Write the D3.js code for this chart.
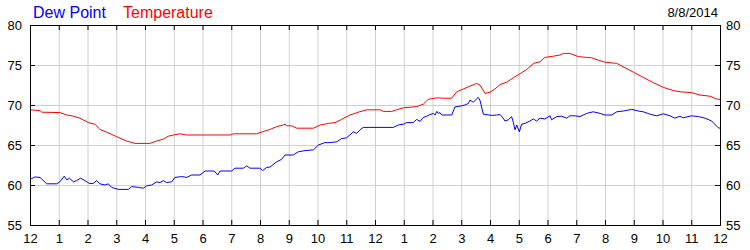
<!DOCTYPE html>
<html>
<head>
<meta charset="utf-8">
<script src="https://cdn.jsdelivr.net/npm/d3@7"></script>
<style>
    body { margin: 0; background: #fff; }
    text { font-family: "Liberation Sans", Arial, sans-serif; }
    .grid line { stroke: #d0d0d0; stroke-width: 1; }
    .grid path { display: none; }
    .axis path { display: none; }
    .axis line { stroke: #000; }
    .axis text { font-size: 13px; fill: #000; }
</style>
</head>
<body>
<div id="chart-area"></div>
<script>

// Readings for 8/8/2014 (hours since midnight)
var dewHours = [0, 0.17, 0.35, 0.58, 0.93, 1.04, 1.19, 1.28, 1.37, 1.51, 1.62, 1.76, 1.91, 2.06, 2.2, 2.32, 2.43, 2.61, 2.72, 2.84,
    3.07, 3.42, 3.54, 3.77, 3.94, 4.06, 4.23, 4.41, 4.52, 4.64, 4.75, 4.93, 5.04, 5.28, 5.45, 5.62, 5.91, 6.09, 6.41, 6.53,
    6.61, 7.01, 7.13, 7.42, 7.54, 7.65, 8.0, 8.09, 8.23, 8.35, 8.58, 8.75, 8.87, 9.16, 9.22, 9.33, 9.57, 9.86, 10.03, 10.26,
    10.44, 10.67, 10.84, 11.01, 11.25, 11.36, 11.48, 11.59, 12.64, 12.81, 12.99, 13.1, 13.33, 13.45, 13.57, 13.68, 13.8, 13.91, 14.03, 14.09,
    14.15, 14.2, 14.26, 14.32, 14.67, 14.78, 15.01, 15.13, 15.25, 15.3, 15.42, 15.59, 15.65, 15.77, 16.06, 16.23, 16.35, 16.46, 16.52, 16.64,
    16.75, 16.81, 16.87, 16.93, 17.02, 17.1, 17.22, 17.39, 17.51, 17.62, 17.74, 17.91, 18.09, 18.14, 18.32, 18.49, 18.67, 18.78, 18.96, 19.13,
    19.36, 19.59, 19.83, 20.0, 20.23, 20.41, 20.64, 20.93, 21.16, 21.33, 21.57, 21.8, 22.03, 22.26, 22.43, 22.61, 22.72, 23.01, 23.25, 23.48,
    23.71, 23.94, 24.0];
var dewValues = [60.7, 61.0, 60.95, 60.15, 60.15, 60.4, 61.1, 60.65, 60.85, 60.4, 60.55, 60.85, 60.55, 60.2, 60.2, 60.55, 60.15, 60.0, 60.15, 59.7,
    59.45, 59.45, 59.8, 59.7, 59.6, 59.9, 60.0, 60.4, 60.3, 60.55, 60.3, 60.4, 60.95, 61.05, 60.95, 61.25, 61.25, 61.75, 61.75, 61.25,
    61.75, 61.75, 62.1, 62.1, 62.4, 62.1, 62.1, 61.8, 62.2, 62.25, 62.9, 63.2, 63.75, 63.75, 63.9, 64.15, 64.3, 64.4, 65.0, 65.3,
    65.3, 65.4, 65.8, 65.9, 66.65, 66.45, 66.9, 67.2, 67.2, 67.5, 67.6, 67.8, 67.8, 68.2, 67.95, 68.45, 68.6, 68.8, 68.95, 68.75,
    69.2, 68.95, 69.05, 68.75, 68.75, 69.75, 69.9, 70.0, 70.2, 70.6, 70.35, 70.95, 70.6, 68.85, 68.7, 68.75, 68.8, 68.35, 68.0, 68.15,
    68.55, 67.85, 66.9, 67.5, 66.65, 67.6, 67.7, 68.0, 68.25, 68.0, 68.35, 68.25, 68.65, 68.15, 68.55, 68.6, 68.35, 68.65, 68.65, 68.55,
    68.95, 69.15, 68.95, 68.75, 68.75, 69.15, 69.25, 69.45, 69.25, 69.15, 68.85, 68.65, 68.9, 68.65, 68.35, 68.6, 68.4, 68.65, 68.55, 68.35,
    68.0, 67.15, 67.1];

var tempHours = [0, 0.35, 0.41, 1.04, 1.28, 1.51, 1.74, 2.03, 2.26, 2.43, 2.67, 3.01, 3.36, 3.65, 4.17, 4.41, 4.64, 4.81, 4.99, 5.22,
    5.45, 6.96, 7.07, 7.88, 8.0, 8.35, 8.58, 8.81, 8.87, 8.93, 9.1, 9.28, 9.86, 10.09, 10.38, 10.61, 10.84, 11.13, 11.42, 11.71,
    12.17, 12.29, 12.58, 12.75, 12.99, 13.45, 13.68, 13.85, 14.15, 14.38, 14.67, 14.84, 15.07, 15.3, 15.54, 15.65, 15.83, 16.0, 16.17, 16.35,
    16.58, 16.81, 17.04, 17.28, 17.51, 17.74, 17.91, 18.2, 18.43, 18.55, 18.78, 19.07, 19.36, 19.54, 19.77, 20.0, 20.41, 20.7, 20.99, 21.33,
    21.68, 22.03, 22.38, 22.61, 23.01, 23.3, 23.65, 23.88, 24.0];
var tempValues = [69.4, 69.3, 69.1, 69.05, 68.75, 68.6, 68.35, 67.8, 67.6, 66.95, 66.6, 66.05, 65.5, 65.2, 65.2, 65.5, 65.75, 66.1, 66.25, 66.4,
    66.25, 66.25, 66.4, 66.4, 66.55, 66.95, 67.3, 67.5, 67.6, 67.4, 67.4, 67.1, 67.1, 67.5, 67.7, 67.8, 68.2, 68.75, 69.1, 69.4,
    69.4, 69.2, 69.2, 69.4, 69.65, 69.8, 70.1, 70.7, 70.9, 70.85, 70.85, 71.65, 72.0, 72.35, 72.7, 72.5, 71.45, 71.6, 72.0, 72.55,
    72.85, 73.4, 73.9, 74.45, 75.2, 75.4, 75.95, 76.1, 76.25, 76.45, 76.45, 76.05, 75.95, 75.9, 75.6, 75.35, 75.2, 74.65, 74.1, 73.45,
    72.8, 72.2, 71.8, 71.65, 71.55, 71.25, 71.1, 70.75, 70.7];

var hourLabels = ["12", "1", "2", "3", "4", "5", "6", "7", "8", "9", "10", "11",
    "12", "1", "2", "3", "4", "5", "6", "7", "8", "9", "10", "11", "12"];
var yTicks = [55, 60, 65, 70, 75, 80];
var chartDate = "8/8/2014";

// Set up svg
var margin = {top: 25, right: 30, bottom: 25, left: 30};

var width = 750 - margin.left - margin.right,
    height = 250 - margin.top - margin.bottom;

var svg = d3.select("#chart-area").append("svg")
    .attr("width", width + margin.left + margin.right)
    .attr("height", height + margin.top + margin.bottom);

var g = svg.append("g")
    .attr("transform", "translate(" + margin.left + "," + margin.top + ")");

var x = d3.scaleLinear()
    .domain([0, 24])
    .range([0, width]);

var y = d3.scaleLinear()
    .domain([55, 80])
    .range([height, 0]);

// Grid lines
g.append("g")
    .attr("class", "grid")
    .attr("transform", "translate(0," + height + ")")
    .call(d3.axisBottom(x).tickValues(d3.range(1, 24)).tickSize(-height).tickFormat(""));

g.append("g")
    .attr("class", "grid")
    .call(d3.axisLeft(y).tickValues([60, 65, 70, 75]).tickSize(-width).tickFormat(""));

// Lines
var dewData = dewHours.map(function(h, i) { return {h: h, v: dewValues[i]}; });
var tempData = tempHours.map(function(h, i) { return {h: h, v: tempValues[i]}; });

var line = d3.line()
    .x(function(d) { return x(d.h); })
    .y(function(d) { return y(d.v); });

g.append("path")
    .datum(tempData)
    .attr("fill", "none")
    .attr("stroke", "#ff0000")
    .attr("stroke-width", 1)
    .attr("d", line);

g.append("path")
    .datum(dewData)
    .attr("fill", "none")
    .attr("stroke", "#0000ff")
    .attr("stroke-width", 1)
    .attr("d", line);

// Frame
g.append("rect")
    .attr("x", 0.5)
    .attr("y", 0.5)
    .attr("width", width)
    .attr("height", height)
    .attr("fill", "none")
    .attr("stroke", "#000")
    .attr("stroke-width", 1);

// Axes, ticks pointing inward
g.append("g")
    .attr("class", "axis")
    .attr("transform", "translate(0," + height + ")")
    .call(d3.axisBottom(x)
        .tickValues(d3.range(0, 25))
        .tickSizeInner(-5)
        .tickSizeOuter(0)
        .tickPadding(9)
        .tickFormat(function(d) { return hourLabels[d]; }));

g.append("g")
    .attr("class", "axis")
    .call(d3.axisTop(x)
        .tickValues(d3.range(1, 24))
        .tickSizeInner(-5)
        .tickSizeOuter(0)
        .tickFormat(""));

g.append("g")
    .attr("class", "axis")
    .call(d3.axisLeft(y)
        .tickValues(yTicks)
        .tickSizeInner(-5)
        .tickSizeOuter(0)
        .tickPadding(8));

g.append("g")
    .attr("class", "axis")
    .attr("transform", "translate(" + width + ",0)")
    .call(d3.axisRight(y)
        .tickValues(yTicks)
        .tickSizeInner(-5)
        .tickSizeOuter(0)
        .tickPadding(6));

// Legend
svg.append("text")
    .attr("x", 33)
    .attr("y", 18)
    .attr("fill", "#0000ff")
    .style("font-size", "16px")
    .text("Dew Point");

svg.append("text")
    .attr("x", 123)
    .attr("y", 18)
    .attr("fill", "#ff0000")
    .style("font-size", "16px")
    .text("Temperature");

svg.append("text")
    .attr("x", 718)
    .attr("y", 17)
    .attr("text-anchor", "end")
    .attr("fill", "#000")
    .style("font-size", "13px")
    .text(chartDate);

</script>
</body>
</html>
